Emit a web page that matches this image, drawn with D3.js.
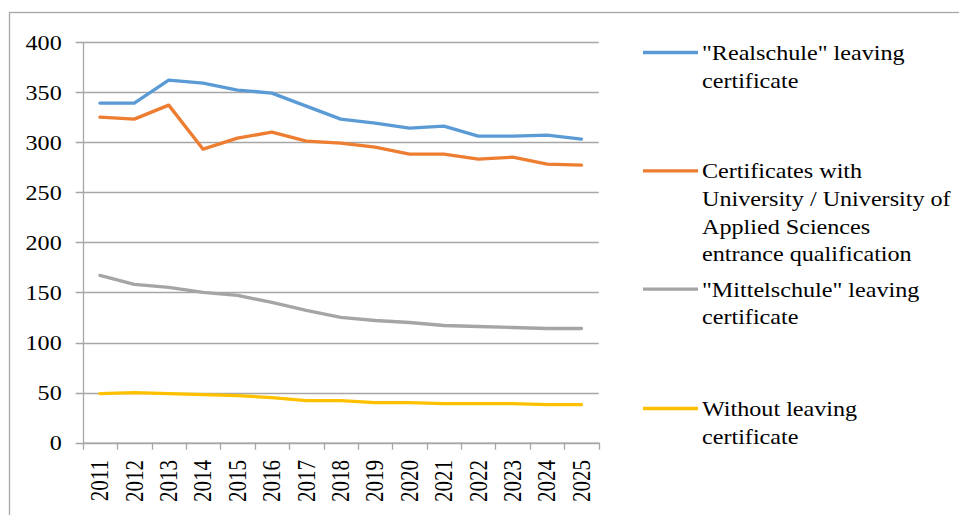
<!DOCTYPE html>
<html>
<head>
<meta charset="utf-8">
<script src="https://cdn.jsdelivr.net/npm/d3@7"></script>
<style>
    body { margin: 0; background: #fff; }
    svg { display: block; }
    svg text { font-family: "Liberation Serif", "Times New Roman", Times, "DejaVu Serif", serif; font-size: 21px; fill: #000; }
</style>
</head>
<body>
<svg id="chart" width="959" height="515"></svg>
<script>
    // years on the x axis
    let years = ["2011", "2012", "2013", "2014", "2015", "2016", "2017", "2018",
        "2019", "2020", "2021", "2022", "2023", "2024", "2025"];

    let realschule = [339, 339, 362, 359, 352, 349, 336, 323, 319, 314, 316, 306, 306, 307, 303];
    let university = [325, 323, 337, 293, 304, 310, 301, 299, 295, 288, 288, 283, 285, 278, 277];
    let mittelschule = [167, 158, 155, 150, 147, 140, 132, 125, 122, 120, 117, 116, 115, 114, 114];
    let withoutCert = [49, 50, 49, 48, 47, 45, 42, 42, 40, 40, 39, 39, 39, 38, 38];

    let yTicks = [0, 50, 100, 150, 200, 250, 300, 350, 400];

    let seriesNames = [
        ["\"Realschule\" leaving", "certificate"],
        ["Certificates with", "University / University of", "Applied Sciences", "entrance qualification"],
        ["\"Mittelschule\" leaving", "certificate"],
        ["Without leaving", "certificate"]
    ];
    let seriesValues = [realschule, university, mittelschule, withoutCert];
    let colors = ["#5b9bd5", "#ed7d31", "#a5a5a5", "#ffc000"];

    let svg = d3.select("#chart");
    let STRETCH = 1.15,   // the source picture is a bit wider than tall
        GRID = "#a6a6a6";

    let MARGINS = {left: 82.7, right: 598.7, top: 42, bottom: 442.7};

    let xScale = d3.scaleBand().domain(years).range([MARGINS.left, MARGINS.right]),
        yScale = d3.scaleLinear().domain([0, 400]).range([MARGINS.bottom, MARGINS.top]);

    // outer chart frame (only top and left edges are visible)
    svg.append("rect")
        .attr("x", 9.5).attr("y", 12.5)
        .attr("width", 1200).attr("height", 800)
        .attr("fill", "none")
        .attr("stroke", GRID)
        .attr("stroke-width", 1.3);

    // horizontal grid lines + y labels
    let yAxis = svg.append("g");
    yTicks.forEach((t) => {
        let y = Math.round(yScale(t)) + 0.5;
        yAxis.append("line")
            .attr("x1", MARGINS.left - 7).attr("x2", MARGINS.right)
            .attr("y1", y).attr("y2", y)
            .attr("stroke", GRID).attr("stroke-width", 1.3);
        yAxis.append("text")
            .attr("transform", "translate(61.7," + (yScale(t) + 7.5) + ") scale(" + STRETCH + ",1)")
            .attr("text-anchor", "end")
            .text(t);
    });

    // y axis line
    svg.append("line")
        .attr("x1", Math.round(MARGINS.left) + 0.5).attr("x2", Math.round(MARGINS.left) + 0.5)
        .attr("y1", MARGINS.top).attr("y2", MARGINS.bottom)
        .attr("stroke", GRID).attr("stroke-width", 1.3);

    // x axis with ticks between categories
    let xAxis = d3.axisBottom(xScale).tickSize(0).tickFormat("");
    svg.append("g")
        .attr("transform", "translate(0," + yScale(0) + ")")
        .call(xAxis)
        .call(g => g.select(".domain").attr("stroke", GRID).attr("stroke-width", 1.3));

    let boundaries = years.map((d) => xScale(d)).concat([MARGINS.right]);
    svg.append("g").selectAll("line").data(boundaries)
        .enter()
        .append("line")
        .attr("x1", (d) => Math.round(d) + 0.5).attr("x2", (d) => Math.round(d) + 0.5)
        .attr("y1", yScale(0)).attr("y2", yScale(0) + 7)
        .attr("stroke", GRID).attr("stroke-width", 1.3);

    // rotated year labels
    svg.append("g").selectAll("text").data(years)
        .enter()
        .append("text")
        .attr("transform", (d) => "translate(" + (xScale(d) + xScale.bandwidth() / 2) + ",460) scale(" + STRETCH + ",1) rotate(-90)")
        .attr("text-anchor", "end")
        .attr("dy", "0.34em")
        .text((d) => d);

    // the lines
    let lineGen = d3.line()
        .x((d, i) => xScale(years[i]) + xScale.bandwidth() / 2)
        .y((d) => yScale(d));

    seriesValues.forEach((values, index) => {
        svg.append("path")
            .attr("d", lineGen(values))
            .attr("fill", "none")
            .attr("stroke", colors[index])
            .attr("stroke-width", 3.3)
            .attr("stroke-linejoin", "round")
            .attr("stroke-linecap", "round");
    });

    // legend
    let legendBaselines = [60, 178.3, 296.7, 416];
    let legend = svg.append("g");
    seriesNames.forEach((lines, index) => {
        let base = legendBaselines[index];
        legend.append("line")
            .attr("x1", 643).attr("x2", 698)
            .attr("y1", base - 7.5).attr("y2", base - 7.5)
            .attr("stroke", colors[index])
            .attr("stroke-width", 3.3);
        lines.forEach((txt, j) => {
            legend.append("text")
                .attr("transform", "translate(702," + (base + j * 27.7) + ") scale(" + STRETCH + ",1)")
                .text(txt);
        });
    });
</script>
</body>
</html>
